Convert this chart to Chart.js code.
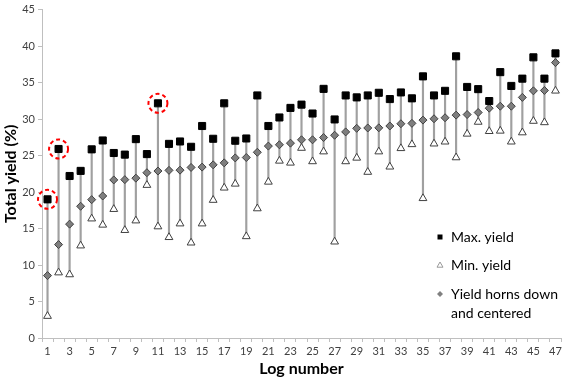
<!DOCTYPE html>
<html><head><meta charset="utf-8">
<script src="https://cdn.jsdelivr.net/npm/chart.js@4.4.1/dist/chart.umd.min.js"></script>
<style>html,body{margin:0;padding:0;background:#fff}#wrap{width:567px;height:378px;position:relative}</style>
</head><body><div id="wrap"><canvas id="c"></canvas></div>
<script>
const logNumbers = ['1','2','3','4','5','6','7','8','9','10','11','12','13','14','15','16','17','18','19','20','21','22','23','24','25','26','27','28','29','30','31','32','33','34','35','36','37','38','39','40','41','42','43','44','45','46','47'];
const maxYield = [19.0,25.9,22.2,22.9,25.85,27.07,25.35,25.13,27.25,25.2,32.16,26.6,26.93,26.2,29.05,27.3,32.16,27.03,27.34,33.24,29.05,30.22,31.53,31.98,30.76,34.14,29.95,33.24,32.97,33.24,33.6,32.74,33.65,32.84,35.85,33.24,33.87,38.6,34.4,34.1,32.47,36.43,34.54,35.54,38.46,35.54,39.0];
const minYield = [3.0,8.96,8.7,12.65,16.35,15.5,17.65,14.77,16.08,20.95,15.27,13.8,15.67,13.05,15.67,18.9,20.58,21.12,13.92,17.74,21.39,24.27,24.0,26.03,24.19,25.54,13.19,24.19,24.68,22.74,25.54,23.46,25.99,26.53,19.14,26.62,26.89,24.73,27.97,29.6,28.33,28.38,26.89,28.15,29.73,29.54,33.87];
const centeredYield = [8.55,12.8,15.6,18.05,18.96,19.46,21.66,21.7,21.9,22.65,22.88,22.97,23.0,23.37,23.42,23.73,24.0,24.68,24.73,25.45,26.3,26.48,26.7,27.16,27.16,27.47,27.78,28.24,28.73,28.78,28.8,29.05,29.36,29.41,29.86,30.04,30.18,30.54,30.62,30.9,31.49,31.76,31.76,32.97,33.87,33.92,37.74];
const highlightedLogs = ['1','2','11'];
const yTicks = [0,5,10,15,20,25,30,35,40,45];
const legendLabels = [['Max. yield'],['Min. yield'],['Yield horns down','and centered']];

const FONT = 'Lato, "Open Sans", sans-serif';

const circlePlugin = {
  id:'circles',
  afterDatasetsDraw(chart){
    const ctx = chart.ctx, xs = chart.scales.x, ys = chart.scales.y;
    ctx.save();
    ctx.strokeStyle = '#ff0000'; ctx.lineWidth = 2; ctx.setLineDash([4,3]);
    highlightedLogs.forEach(l=>{
      const i = logNumbers.indexOf(l);
      const px = xs.getPixelForValue(i), py = ys.getPixelForValue(maxYield[i]);
      ctx.beginPath(); ctx.arc(px, py, 9.5, 0, Math.PI*2); ctx.stroke();
    });
    ctx.restore();
  }
};

const legendPlugin = {
  id:'customLegend',
  afterDraw(chart){
    const ctx = chart.ctx;
    ctx.save();
    ctx.font = '14px ' + FONT;
    ctx.fillStyle = '#000';
    ctx.textBaseline = 'middle';
    const mx = 440, tx = 451;
    const ys = [237, 265, 294];
    ctx.fillStyle = '#000'; ctx.fillRect(mx-2.5, ys[0]-2.5, 5, 5);
    ctx.beginPath(); ctx.moveTo(mx, ys[1]-3); ctx.lineTo(mx+3, ys[1]+2.2); ctx.lineTo(mx-3, ys[1]+2.2); ctx.closePath();
    ctx.fillStyle = '#fff'; ctx.fill(); ctx.strokeStyle = '#999'; ctx.lineWidth = 1; ctx.stroke();
    ctx.beginPath(); ctx.moveTo(mx, ys[2]-3); ctx.lineTo(mx+3, ys[2]); ctx.lineTo(mx, ys[2]+3); ctx.lineTo(mx-3, ys[2]); ctx.closePath();
    ctx.fillStyle = '#808080'; ctx.fill();
    ctx.fillStyle = '#000';
    legendLabels.forEach((lines, k)=>{
      lines.forEach((t, j)=>{ ctx.fillText(t, tx, ys[k] + j*19); });
    });
    ctx.restore();
  }
};

new Chart(document.getElementById('c'), {
  type: 'bar',
  data: {
    labels: logNumbers,
    datasets: [
      { type:'line', label:'Max. yield', data:maxYield, showLine:false, pointStyle:'rect', pointRadius:5, pointBackgroundColor:'#000', pointBorderColor:'#000', pointBorderWidth:1, order:1 },
      { type:'line', label:'Yield horns down and centered', data:centeredYield, showLine:false, pointStyle:'rectRot', pointRadius:4, pointBackgroundColor:'#7f7f7f', pointBorderColor:'#404040', pointBorderWidth:1, order:2 },
      { type:'line', label:'Min. yield', data:minYield, showLine:false, pointStyle:'triangle', pointRadius:4.5, pointBackgroundColor:'#fff', pointBorderColor:'#404040', pointBorderWidth:1, order:3 },
      { type:'bar', label:'range', data:minYield.map((v,i)=>[v, maxYield[i]]), backgroundColor:'#a0a0a0', barThickness:1.5, order:10 }
    ]
  },
  options: {
    responsive:true, maintainAspectRatio:false, animation:false,
    layout:{ padding:{ top:5, right:1, left:0, bottom:0 } },
    plugins:{ legend:{ display:false }, tooltip:{ enabled:false } },
    scales:{
      x:{
        type:'category', offset:true,
        grid:{ offset:true, drawOnChartArea:false, drawTicks:true, tickLength:4, color:'#bfbfbf' },
        border:{ color:'#bfbfbf' },
        ticks:{ autoSkip:false, maxRotation:0, minRotation:0, padding:3, color:'#404040', font:{ family:FONT, size:11 },
          callback:(v,i)=> (i%2===0 ? logNumbers[i] : '') },
        title:{ display:true, text:'Log number', color:'#000', font:{ family:FONT, size:16, weight:'bold' }, padding:{ top:0, bottom:0 } },
        afterFit:(s)=>{ s.height = 40; }
      },
      y:{
        min:0, max:45,
        afterBuildTicks:(s)=>{ s.ticks = yTicks.map(v=>({value:v})); },
        grid:{ drawOnChartArea:false, drawTicks:true, tickLength:4, color:'#bfbfbf' },
        border:{ color:'#bfbfbf' },
        ticks:{ padding:3, color:'#404040', font:{ family:FONT, size:11 } },
        title:{ display:true, text:'Total yield (%)', color:'#000', font:{ family:FONT, size:16, weight:'bold' }, padding:{ top:1, bottom:0 } },
        afterFit:(s)=>{ s.width = 42; }
      }
    }
  },
  plugins:[circlePlugin, legendPlugin]
});
</script>
</body></html>
